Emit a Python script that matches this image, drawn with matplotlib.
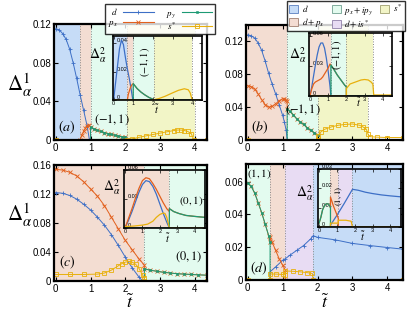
import matplotlib
matplotlib.use('Agg')
import matplotlib.pyplot as plt
from matplotlib.lines import Line2D
from matplotlib.patches import Patch

plt.rcParams['mathtext.fontset'] = 'stix'
plt.rcParams['font.family'] = ['Liberation Sans', 'DejaVu Sans']

# ---------------- data: panel (a) ----------------
a_bounds = [0.0, 0.7, 1.0, 2.05, 4.0]
a_phases = ['d', 'd+px', 'px+ipy', 's*']
a_d_t = [0, 0.1, 0.2, 0.3, 0.4, 0.5, 0.6, 0.7, 0.8, 0.9, 0.97, 4.35]
a_d_v = [0.115, 0.114, 0.110, 0.104, 0.094, 0.080, 0.064, 0.047, 0.031, 0.015, 0.0, 0.0]
a_px_t = [0, 0.7, 0.75, 0.8, 0.85, 0.9, 0.95, 1.0, 1.1, 1.2, 1.3, 1.4, 1.5, 1.6, 1.7, 1.8, 1.9, 2.0, 2.05, 4.35]
a_px_v = [0, 0, 0.005, 0.009, 0.012, 0.015, 0.016, 0.013, 0.0115, 0.010, 0.0088, 0.0077, 0.0067, 0.0058, 0.0049, 0.0041, 0.0033, 0.0026, 0, 0]
a_py_t = [0, 1.0, 1.0, 1.1, 1.2, 1.3, 1.4, 1.5, 1.6, 1.7, 1.8, 1.9, 2.0, 2.05, 4.35]
a_py_v = [0, 0, 0.013, 0.0115, 0.010, 0.0088, 0.0077, 0.0067, 0.0058, 0.0049, 0.0041, 0.0033, 0.0026, 0, 0]
a_s_t = [0, 2.05, 2.2, 2.4, 2.6, 2.8, 3.0, 3.2, 3.4, 3.5, 3.6, 3.7, 3.8, 3.9, 3.97, 4.35]
a_s_v = [0, 0, 0.0012, 0.0028, 0.0043, 0.0057, 0.0071, 0.0085, 0.0098, 0.0103, 0.0103, 0.0098, 0.0088, 0.0065, 0, 0]
# inset (a)
ai_d_t = [0, 0.1, 0.2, 0.3, 0.4, 0.5, 0.6, 0.7, 0.8, 0.9, 0.98, 4.5]
ai_d_v = [0, 0.012, 0.024, 0.036, 0.042, 0.039, 0.030, 0.022, 0.015, 0.007, 0, 0]
ai_px_t = [0, 0.7, 0.75, 0.85, 0.92, 1.0, 1.2, 1.4, 1.6, 1.8, 2.0, 2.05, 4.5]
ai_px_v = [0, 0, 0.004, 0.0085, 0.0105, 0.0115, 0.008, 0.0055, 0.0035, 0.0018, 0.0006, 0, 0]
ai_py_t = [0, 1.0, 1.0, 1.2, 1.4, 1.6, 1.8, 2.0, 2.05, 4.5]
ai_py_v = [0, 0, 0.0115, 0.008, 0.0055, 0.0035, 0.0018, 0.0006, 0, 0]
ai_s_t = [0, 2.0, 2.3, 2.6, 3.0, 3.3, 3.6, 3.8, 3.9, 4.0, 4.5]
ai_s_v = [0, 0, 0.001, 0.0025, 0.005, 0.0068, 0.0079, 0.0072, 0.005, 0, 0]

# ---------------- data: panel (b) ----------------
b_bounds = [0.0, 1.13, 2.0, 3.45]
b_phases = ['d+px', 'px+ipy', 's*']
b_d_t = [0, 0.1, 0.2, 0.3, 0.4, 0.5, 0.6, 0.7, 0.8, 0.9, 1.0, 1.05, 1.1, 1.13, 4.45]
b_d_v = [0.128, 0.127, 0.124, 0.118, 0.109, 0.096, 0.081, 0.068, 0.056, 0.043, 0.030, 0.022, 0.012, 0, 0]
b_px_t = [0, 0.1, 0.2, 0.3, 0.4, 0.5, 0.6, 0.7, 0.8, 0.9, 1.0, 1.05, 1.1, 1.13, 1.13, 1.2, 1.3, 1.4, 1.5, 1.6, 1.7, 1.8, 1.9, 2.0, 2.0, 4.45]
b_px_v = [0.066, 0.065, 0.062, 0.056, 0.049, 0.043, 0.040, 0.041, 0.044, 0.048, 0.050, 0.050, 0.049, 0.048, 0.038, 0.035, 0.031, 0.026, 0.022, 0.019, 0.015, 0.012, 0.009, 0.006, 0, 0]
b_py_t = [0, 1.13, 1.13, 1.2, 1.3, 1.4, 1.5, 1.6, 1.7, 1.8, 1.9, 2.0, 2.0, 4.45]
b_py_v = [0, 0, 0.038, 0.035, 0.031, 0.026, 0.022, 0.019, 0.015, 0.012, 0.009, 0.006, 0, 0]
b_s_t = [0, 2.0, 2.0, 2.1, 2.2, 2.4, 2.6, 2.8, 3.0, 3.2, 3.3, 3.4, 3.45, 3.5, 3.7, 4.0, 4.45]
b_s_v = [0, 0, 0.005, 0.010, 0.013, 0.016, 0.018, 0.019, 0.0195, 0.018, 0.016, 0.013, 0.007, 0.004, 0.0035, 0.003, 0.003]
# inset (b)
bi_d_t = [0, 0.1, 0.2, 0.3, 0.4, 0.5, 0.6, 0.7, 0.8, 0.9, 1.0, 1.1, 1.15, 4.5]
bi_d_v = [0, 0.009, 0.020, 0.031, 0.041, 0.049, 0.053, 0.053, 0.048, 0.038, 0.025, 0.010, 0, 0]
bi_px_t = [0, 0.1, 0.2, 0.3, 0.4, 0.5, 0.6, 0.7, 0.8, 0.9, 1.0, 1.1, 1.15, 1.3, 1.5, 1.7, 1.9, 2.0, 2.0, 4.5]
bi_px_v = [0, 0.007, 0.012, 0.014, 0.015, 0.016, 0.017, 0.019, 0.022, 0.025, 0.028, 0.032, 0.031, 0.027, 0.021, 0.016, 0.011, 0.009, 0, 0]
bi_py_t = [0, 1.15, 1.15, 1.3, 1.5, 1.7, 1.9, 2.0, 2.0, 4.5]
bi_py_v = [0, 0, 0.031, 0.027, 0.021, 0.016, 0.011, 0.009, 0, 0]
bi_s_t = [0, 2.0, 2.0, 2.2, 2.5, 2.8, 3.0, 3.2, 3.35, 3.45, 3.5, 4.0, 4.5]
bi_s_v = [0, 0, 0.0075, 0.012, 0.014, 0.016, 0.0165, 0.016, 0.014, 0.012, 0.001, 0.001, 0.001]

# ---------------- data: panel (c) ----------------
c_bounds = [0.0, 2.55, 4.7]
c_phases = ['d+px', 'px+ipy']
c_d_t = [0, 0.2, 0.4, 0.6, 0.8, 1.0, 1.2, 1.4, 1.6, 1.8, 2.0, 2.2, 2.4, 2.5, 4.35]
c_d_v = [0.122, 0.121, 0.118, 0.113, 0.106, 0.098, 0.088, 0.077, 0.064, 0.049, 0.033, 0.018, 0.005, 0, 0]
c_px_t = [0, 0.2, 0.4, 0.6, 0.8, 1.0, 1.2, 1.4, 1.6, 1.8, 2.0, 2.2, 2.4, 2.55, 2.55, 2.7, 2.9, 3.1, 3.3, 3.5, 3.7, 3.9, 4.1, 4.35]
c_px_v = [0.154, 0.153, 0.150, 0.145, 0.137, 0.127, 0.117, 0.104, 0.088, 0.072, 0.056, 0.043, 0.030, 0.022, 0.017, 0.015, 0.0135, 0.012, 0.011, 0.010, 0.0095, 0.009, 0.0085, 0.008]
c_py_t = [0, 2.55, 2.55, 2.7, 2.9, 3.1, 3.3, 3.5, 3.7, 3.9, 4.1, 4.35]
c_py_v = [0, 0, 0.017, 0.015, 0.0135, 0.012, 0.011, 0.010, 0.0095, 0.009, 0.0085, 0.008]
c_s_t = [0, 0.4, 0.8, 1.2, 1.4, 1.6, 1.8, 1.9, 2.0, 2.1, 2.2, 2.3, 2.4, 2.5, 2.55, 2.55, 4.35]
c_s_v = [0.009, 0.009, 0.009, 0.0095, 0.011, 0.015, 0.021, 0.024, 0.026, 0.027, 0.026, 0.023, 0.017, 0.008, 0.004, 0, 0]
# inset (c)
ci_d_t = [0, 0.2, 0.4, 0.6, 0.8, 1.0, 1.2, 1.4, 1.6, 1.8, 2.0, 2.2, 2.4, 2.55, 4.6]
ci_d_v = [0, 0.008, 0.017, 0.027, 0.037, 0.045, 0.049, 0.048, 0.043, 0.035, 0.025, 0.015, 0.006, 0, 0]
ci_px_t = [0, 0.2, 0.4, 0.6, 0.8, 1.0, 1.2, 1.4, 1.6, 1.8, 2.0, 2.2, 2.4, 2.55, 2.55, 2.8, 3.1, 3.5, 4.0, 4.6]
ci_px_v = [0, 0.010, 0.020, 0.031, 0.041, 0.049, 0.052, 0.051, 0.046, 0.040, 0.033, 0.026, 0.020, 0.017, 0.020, 0.017, 0.015, 0.013, 0.012, 0.011]
ci_py_t = [0, 2.55, 2.55, 2.8, 3.1, 3.5, 4.0, 4.6]
ci_py_v = [0, 0, 0.020, 0.017, 0.015, 0.013, 0.012, 0.011]
ci_s_t = [0, 0.5, 1.0, 1.3, 1.6, 1.8, 2.0, 2.2, 2.3, 2.4, 2.5, 2.55, 4.6]
ci_s_v = [0.0015, 0.002, 0.003, 0.004, 0.007, 0.011, 0.014, 0.0155, 0.015, 0.011, 0.004, 0, 0]

# ---------------- data: panel (d) ----------------
d_bounds = [0.0, 0.64, 1.08, 1.875, 4.7]
d_phases = ['px+ipy', 'd+px', 'd+is*', 'd']
d_d_t = [0, 0.64, 0.64, 0.8, 1.0, 1.08, 1.2, 1.4, 1.6, 1.8, 1.875, 2.0, 2.5, 3.0, 3.5, 4.0, 4.45]
d_d_v = [0, 0, 0.005, 0.008, 0.012, 0.013, 0.015, 0.018, 0.021, 0.025, 0.027, 0.026, 0.0245, 0.0223, 0.021, 0.0198, 0.0188]
d_px_t = [0, 0.1, 0.2, 0.3, 0.4, 0.5, 0.6, 0.64, 0.64, 0.7, 0.8, 0.9, 1.0, 1.08, 1.08, 4.45]
d_px_v = [0.059, 0.057, 0.053, 0.047, 0.041, 0.034, 0.027, 0.023, 0.026, 0.023, 0.018, 0.013, 0.009, 0.006, 0, 0]
d_py_t = [0, 0.1, 0.2, 0.3, 0.4, 0.5, 0.6, 0.64, 0.64, 4.45]
d_py_v = [0.059, 0.057, 0.053, 0.047, 0.041, 0.034, 0.027, 0.023, 0, 0]
d_s_t = [0, 0.64, 0.64, 0.8, 1.0, 1.08, 1.08, 1.3, 1.5, 1.7, 1.85, 1.875, 4.45]
d_s_v = [0, 0, 0.0037, 0.0036, 0.0034, 0.0032, 0.0055, 0.0053, 0.005, 0.0045, 0.004, 0, 0]
# inset (d)
di_d_t = [0, 0.64, 0.64, 1.0, 1.4, 1.875, 2.2, 2.6, 3.0, 3.5, 4.0, 4.6]
di_d_v = [0, 0, 0.001, 0.006, 0.012, 0.0195, 0.019, 0.018, 0.0173, 0.0166, 0.0161, 0.0156]
di_px_t = [0, 0.1, 0.2, 0.3, 0.4, 0.5, 0.6, 0.64, 0.64, 0.8, 0.95, 1.08, 1.08, 4.6]
di_px_v = [0.002, 0.005, 0.009, 0.011, 0.012, 0.012, 0.011, 0.010, 0.0155, 0.011, 0.0075, 0.0045, 0, 0]
di_py_t = [0, 0.1, 0.2, 0.3, 0.4, 0.5, 0.6, 0.64, 0.64, 4.6]
di_py_v = [0.002, 0.005, 0.009, 0.011, 0.012, 0.012, 0.011, 0.010, 0, 0]
di_s_t = [0, 0.64, 0.64, 1.08, 1.08, 1.5, 1.8, 1.875, 4.6]
di_s_v = [0, 0, 0.002, 0.002, 0.0035, 0.0035, 0.003, 0, 0]

# tick labels
main_xticks = [0, 1, 2, 3, 4]
a_yticks = [0, 0.04, 0.08, 0.12]
a_ylabels = ['0', '0.04', '0.08', '0.12']
c_yticks = [0, 0.04, 0.08, 0.12, 0.16]
c_ylabels = ['0', '0.04', '0.08', '0.12', '0.16']
d_yticks = [0, 0.02, 0.04, 0.06]
d_ylabels = ['0', '0.02', '0.04', '0.06']
ai_yticks = [0, 0.02, 0.04]
ai_ylabels = ['0', '0.02', '0.04']
bi_yticks = [0, 0.03, 0.06]
bi_ylabels = ['0', '0.03', '0.06']
di_yticks = [0, 0.01, 0.02, 0.03]
di_ylabels = ['0', '0.01', '0.02', '0.03']

# ---------------- styles ----------------
fills = {'d': '#c6dcf7', 'd+px': '#f3ddd2', 'px+ipy': '#e3fbef',
         's*': '#f2f5c7', 'd+is*': '#e8dcf3'}
colors = {'d': '#3d6fc6', 'px': '#e2601d', 'py': '#1d9a74', 's': '#e8b00c'}
markers = {'d': dict(marker='+', ms=3.0, mew=0.6),
           'px': dict(marker='x', ms=2.4, mew=0.6),
           'py': dict(marker='s', ms=1.7, mew=0.4),
           's': dict(marker='s', ms=2.5, mew=0.6, mfc='none')}

W, H = 407, 314
fig = plt.figure(figsize=(W / 100, H / 100), dpi=100)


def rect(l, t, r, b):
    return [l / W, 1 - b / H, (r - l) / W, (b - t) / H]


def P(x, y):
    return x / W, 1 - y / H


def shade(ax, bounds, phases, xlim):
    for i, ph in enumerate(phases):
        x0 = bounds[i] if i > 0 else min(bounds[0], xlim[0])
        ax.axvspan(x0, bounds[i + 1], color=fills[ph], lw=0, zorder=0)
    for b in bounds[1:]:
        if b < xlim[1]:
            ax.axvline(b, color='#888888', ls=':', lw=0.7, zorder=1)


def plot_series(ax, data, main):
    for key in ['d', 'px', 'py', 's']:
        t, v = data[key]
        kw = dict(color=colors[key], lw=0.7 if main else 0.9, zorder=3)
        if main:
            kw.update(markers[key])
        ax.plot(t, v, **kw)


def style(ax, xlim, ylim, yticks, ylabels, main, xticks=main_xticks):
    ax.set_xlim(*xlim)
    ax.set_ylim(*ylim)
    ax.set_xticks(xticks)
    ax.set_xticklabels([str(x) for x in xticks])
    ax.set_yticks(yticks)
    ax.set_yticklabels(ylabels)
    for s in ax.spines.values():
        s.set_linewidth(1.6 if main else 1.2)
        s.set_zorder(5)
    if main:
        ax.tick_params(direction='in', top=True, right=True, length=3,
                       width=0.8, labelsize=7, pad=2)
    else:
        ax.tick_params(direction='in', top=True, right=True, length=2,
                       width=0.5, labelsize=4, pad=1)
        ax.tick_params(axis='y', pad=-2.5)
        for lbl in ax.get_yticklabels():
            lbl.set_horizontalalignment('left')
            lbl.set_verticalalignment('bottom')


panels = [
    dict(rect=rect(54, 24, 207, 140), xlim=(-0.05, 4.35), ylim=(0, 0.12),
         yt=a_yticks, yl=a_ylabels, bounds=a_bounds, phases=a_phases,
         data={'d': (a_d_t, a_d_v), 'px': (a_px_t, a_px_v), 'py': (a_py_t, a_py_v), 's': (a_s_t, a_s_v)},
         irect=rect(113, 36, 202, 100), ixlim=(-0.03, 4.5), iylim=(0, 0.045),
         iyt=ai_yticks, iyl=ai_ylabels,
         idata={'d': (ai_d_t, ai_d_v), 'px': (ai_px_t, ai_px_v), 'py': (ai_py_t, ai_py_v), 's': (ai_s_t, ai_s_v)}),
    dict(rect=rect(246, 25, 403, 140), xlim=(-0.05, 4.45), ylim=(0, 0.14),
         yt=a_yticks, yl=a_ylabels, bounds=b_bounds, phases=b_phases,
         data={'d': (b_d_t, b_d_v), 'px': (b_px_t, b_px_v), 'py': (b_py_t, b_py_v), 's': (b_s_t, b_s_v)},
         irect=rect(309, 33, 392, 96), ixlim=(-0.05, 4.5), iylim=(0, 0.063),
         iyt=bi_yticks, iyl=bi_ylabels,
         idata={'d': (bi_d_t, bi_d_v), 'px': (bi_px_t, bi_px_v), 'py': (bi_py_t, bi_py_v), 's': (bi_s_t, bi_s_v)}),
    dict(rect=rect(54, 165, 207, 281), xlim=(-0.05, 4.35), ylim=(0, 0.16),
         yt=c_yticks, yl=c_ylabels, bounds=c_bounds, phases=c_phases,
         data={'d': (c_d_t, c_d_v), 'px': (c_px_t, c_px_v), 'py': (c_py_t, c_py_v), 's': (c_s_t, c_s_v)},
         irect=rect(124, 170, 205, 228), ixlim=(-0.06, 4.6), iylim=(0, 0.06),
         iyt=bi_yticks, iyl=bi_ylabels,
         idata={'d': (ci_d_t, ci_d_v), 'px': (ci_px_t, ci_px_v), 'py': (ci_py_t, ci_py_v), 's': (ci_s_t, ci_s_v)}),
    dict(rect=rect(246, 164, 403, 280), xlim=(-0.05, 4.45), ylim=(0, 0.0707),
         yt=d_yticks, yl=d_ylabels, bounds=d_bounds, phases=d_phases,
         data={'d': (d_d_t, d_d_v), 'px': (d_px_t, d_px_v), 'py': (d_py_t, d_py_v), 's': (d_s_t, d_s_v)},
         irect=rect(318, 169, 401, 227), ixlim=(-0.06, 4.6), iylim=(0, 0.03),
         iyt=di_yticks, iyl=di_ylabels,
         idata={'d': (di_d_t, di_d_v), 'px': (di_px_t, di_px_v), 'py': (di_py_t, di_py_v), 's': (di_s_t, di_s_v)}),
]

for p in panels:
    ax = fig.add_axes(p['rect'])
    shade(ax, p['bounds'], p['phases'], p['xlim'])
    plot_series(ax, p['data'], True)
    style(ax, p['xlim'], p['ylim'], p['yt'], p['yl'], True)
    ins = fig.add_axes(p['irect'])
    shade(ins, p['bounds'], p['phases'], p['ixlim'])
    plot_series(ins, p['idata'], False)
    style(ins, p['ixlim'], p['iylim'], p['iyt'], p['iyl'], False)

# ---------------- texts ----------------
for y in (85, 215):
    fig.text(*P(20, y), r'$\Delta_\alpha^1$', fontsize=15, ha='center', va='center')
for x in (130, 325):
    fig.text(*P(x, 303), r'$\tilde{t}$', fontsize=13, ha='center', va='center')
for x, y in ((157, 109), (359, 102), (168, 238), (363, 236)):
    fig.text(*P(x, y), r'$\tilde{t}$', fontsize=7.5, ha='center', va='center')
for lab, x, y in (('(a)', 67, 127), ('(b)', 260, 127), ('(c)', 67, 262), ('(d)', 259, 268)):
    fig.text(*P(x, y), '$' + lab + '$', fontsize=10, ha='center', va='center')
for x, y in ((98, 55), (298, 55), (112, 187), (305, 193)):
    fig.text(*P(x, y), r'$\Delta_\alpha^2$', fontsize=10, ha='center', va='center')
fig.text(*P(112, 120), r'$(-1,1)$', fontsize=9, ha='center', va='center')
fig.text(*P(303, 110), r'$(-1,1)$', fontsize=9, ha='center', va='center')
fig.text(*P(145, 62), r'$(-1,1)$', fontsize=7.5, ha='center', va='center', rotation=90)
fig.text(*P(337, 55), r'$(-1,1)$', fontsize=7.5, ha='center', va='center', rotation=90)
fig.text(*P(189, 257), r'$(0,1)$', fontsize=9, ha='center', va='center')
fig.text(*P(191, 201), r'$(0,1)$', fontsize=8, ha='center', va='center')
fig.text(*P(259, 174), r'$(1,1)$', fontsize=8, ha='center', va='center')
fig.text(*P(339, 196), r'$(1,1)$', fontsize=6.5, ha='center', va='center', rotation=90)

# ---------------- legends ----------------
line_handles = [Line2D([], [], color=colors[k], lw=0.8, **markers[k]) for k in ['d', 'px', 'py', 's']]
line_labels = ['$d$', '$p_x$', '$p_y$', '$s^*$']
leg1 = fig.legend(line_handles, line_labels, loc='center', bbox_to_anchor=P(160, 19),
                  ncol=2, markerfirst=False, fontsize=6.5, frameon=True, fancybox=False,
                  edgecolor='black', handlelength=3.4, columnspacing=1.4,
                  borderpad=0.25, labelspacing=0.05, handletextpad=0.6, numpoints=1)
leg1.get_frame().set_linewidth(1.0)

patch_keys = ['d', 'd+px', 'px+ipy', 'd+is*', 's*']
patch_labels = ['$d$', '$d+p_x$', '$p_x+ip_y$', '$d+is^*$', '$s^*$']
edge_cols = {'d': '#5a80c0', 'd+px': '#a08070', 'px+ipy': '#70a090', 'd+is*': '#9080a8', 's*': '#a0a070'}
patch_handles = [Patch(facecolor=fills[k], edgecolor=edge_cols[k], lw=0.6) for k in patch_keys]
leg2 = fig.legend(patch_handles, patch_labels, loc='center', bbox_to_anchor=P(346, 16),
                  ncol=3, fontsize=6.5, frameon=True, fancybox=False, edgecolor='black',
                  handlelength=1.0, handleheight=1.0, columnspacing=0.8,
                  borderpad=0.25, labelspacing=0.15, handletextpad=0.4)
leg2.get_frame().set_linewidth(1.0)

fig.savefig('out.png', dpi=100)
